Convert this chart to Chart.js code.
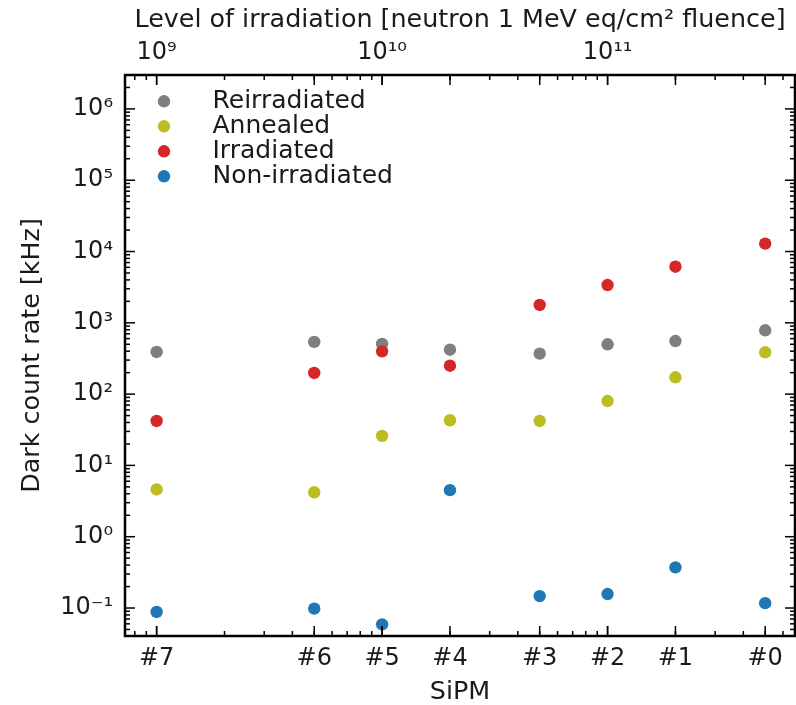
<!DOCTYPE html>
<html><head><meta charset="utf-8">
<script src="https://cdn.jsdelivr.net/npm/chart.js@4.4.1/dist/chart.umd.min.js"></script>
<style>html,body{margin:0;padding:0;background:#fff;} canvas{display:block;}</style>
</head><body>
<canvas id="c" width="796" height="705"></canvas>
<script>
// ---- data ----
const sipmLabels = ['#7', '#6', '#5', '#4', '#3', '#2', '#1', '#0'];
const fluence = [1e9, 5e9, 1e10, 2e10, 5e10, 1e11, 2e11, 5e11];
const reirradiated = [390, 540, 505, 420, 370, 500, 555, 785];
const annealed = [4.6, 4.2, 26, 43, 42, 80, 172, 386];
const irradiated = [42, 198, 398, 250, 1780, 3390, 6120, 12900];
const nonIrradiated = [0.088, 0.098, 0.059, 4.5, 0.147, 0.157, 0.372, 0.117];
const seriesNames = ['Reirradiated', 'Annealed', 'Irradiated', 'Non-irradiated'];
const topTickValues = [1e9, 1e10, 1e11];
const yTickValues = [1e-1, 1e0, 1e1, 1e2, 1e3, 1e4, 1e5, 1e6];

const FONT = 'DejaVu Sans';
const TXT = '#1a1a1a';
const SUP = {'-':'\u207B','0':'\u2070','1':'\u00B9','2':'\u00B2','3':'\u00B3','4':'\u2074','5':'\u2075','6':'\u2076','7':'\u2077','8':'\u2078','9':'\u2079'};
function pow10Label(v) {
  const e = String(Math.round(Math.log10(v)));
  return '10' + e.split('').map(c => SUP[c]).join('');
}
function minorValues(min, max) {
  const out = [];
  for (let n = Math.floor(Math.log10(min)); n <= Math.ceil(Math.log10(max)); n++) {
    for (let k = 2; k <= 9; k++) {
      const v = k * Math.pow(10, n);
      if (v >= min && v <= max) out.push(v);
    }
  }
  return out;
}
const toPts = arr => fluence.map((x, i) => ({x: x, y: arr[i]}));

const colors = ['#7f7f7f', '#bcbd22', '#d62728', '#1f77b4'];
const series = [reirradiated, annealed, irradiated, nonIrradiated];

const datasets = series.map((s, i) => ({
  label: seriesNames[i],
  data: toPts(s),
  backgroundColor: colors[i],
  borderColor: colors[i],
  borderWidth: 0,
  pointRadius: 6.2,
  pointHoverRadius: 6.2,
  order: 4 - i
}));

const frameTicks = {
  id: 'frameTicks',
  afterDraw(chart) {
    const ctx = chart.ctx, a = chart.chartArea;
    const xs = chart.scales.x, ys = chart.scales.y;
    ctx.save();
    ctx.strokeStyle = '#000';
    ctx.lineWidth = 1.5;
    const seg = (x1, y1, x2, y2) => { ctx.beginPath(); ctx.moveTo(x1, y1); ctx.lineTo(x2, y2); ctx.stroke(); };
    const tx = (v, len) => {
      const p = xs.getPixelForValue(v);
      if (p < a.left + 1 || p > a.right - 1) return;
      seg(p, a.bottom, p, a.bottom - len);
      seg(p, a.top, p, a.top + len);
    };
    const ty = (v, len) => {
      const p = ys.getPixelForValue(v);
      if (p < a.top + 1 || p > a.bottom - 1) return;
      seg(a.left, p, a.left + len, p);
      seg(a.right, p, a.right - len, p);
    };
    minorValues(xs.min, xs.max).forEach(v => tx(v, 5));
    fluence.forEach(v => tx(v, 10));
    topTickValues.forEach(v => tx(v, 10));
    minorValues(ys.min, ys.max).forEach(v => ty(v, 5));
    yTickValues.forEach(v => ty(v, 10));
    ctx.lineWidth = 2.5;
    ctx.strokeRect(a.left, a.top, a.right - a.left, a.bottom - a.top);
    ctx.restore();
  }
};

const legendBox = {
  id: 'legendBox',
  afterDraw(chart) {
    const ctx = chart.ctx;
    ctx.save();
    ctx.font = '25px "' + FONT + '"';
    ctx.textAlign = 'left';
    ctx.textBaseline = 'alphabetic';
    chart.data.datasets.forEach((d, i) => {
      const y = 101.3 + i * 25;
      ctx.fillStyle = d.backgroundColor;
      ctx.beginPath(); ctx.arc(164, y, 6.2, 0, Math.PI * 2); ctx.fill();
      ctx.fillStyle = TXT;
      ctx.fillText(d.label, 212.5, y + 6.8);
    });
    ctx.restore();
  }
};

const tickFont = {family: FONT, size: 24};
const titleFont = {family: FONT, size: 25.4, lineHeight: 1};
const noPadH = s => { s.paddingLeft = 0; s.paddingRight = 0; };

new Chart(document.getElementById('c'), {
  type: 'scatter',
  data: {datasets: datasets},
  options: {
    responsive: false,
    devicePixelRatio: 1,
    animation: false,
    layout: {autoPadding: false, padding: {left: 0, right: 1, top: 0, bottom: 0}},
    plugins: {legend: {display: false}, tooltip: {enabled: false}},
    scales: {
      x: {
        type: 'logarithmic', position: 'bottom',
        min: 7.24e8, max: 6.78e11,
        grid: {display: false, drawTicks: false},
        border: {display: false},
        afterBuildTicks: s => { s.ticks = fluence.map(v => ({value: v})); },
        afterFit: s => { s.height = 69; noPadH(s); },
        ticks: {autoSkip: false, maxRotation: 0, minRotation: 0, padding: 8, color: TXT, font: tickFont,
          callback: (v, i) => sipmLabels[i]},
        title: {display: true, text: 'SiPM', color: TXT, font: titleFont, padding: {top: 0, bottom: 0}}
      },
      xTop: {
        type: 'logarithmic', position: 'top',
        min: 7.24e8, max: 6.78e11,
        grid: {display: false, drawTicks: false},
        border: {display: false},
        afterBuildTicks: s => { s.ticks = topTickValues.map(v => ({value: v})); },
        afterFit: s => { s.height = 75; noPadH(s); },
        ticks: {autoSkip: false, maxRotation: 0, minRotation: 0, padding: 8, color: TXT, font: tickFont,
          callback: v => pow10Label(v)},
        title: {display: true, text: 'Level of irradiation [neutron 1 MeV eq/cm\u00B2 fluence]', color: TXT, font: titleFont, padding: {top: 8, bottom: 0}}
      },
      y: {
        type: 'logarithmic', position: 'left',
        min: 0.0405, max: 2.99e6,
        grid: {display: false, drawTicks: false},
        border: {display: false},
        afterBuildTicks: s => { s.ticks = yTickValues.map(v => ({value: v})); },
        afterFit: s => { s.width = 125; s.paddingTop = 0; s.paddingBottom = 0; },
        ticks: {autoSkip: false, padding: 12, color: TXT, font: tickFont,
          callback: v => pow10Label(v)},
        title: {display: true, text: 'Dark count rate [kHz]', color: TXT, font: titleFont, padding: {top: 20, bottom: 0}}
      }
    }
  },
  plugins: [frameTicks, legendBox]
});
</script>
</body></html>
